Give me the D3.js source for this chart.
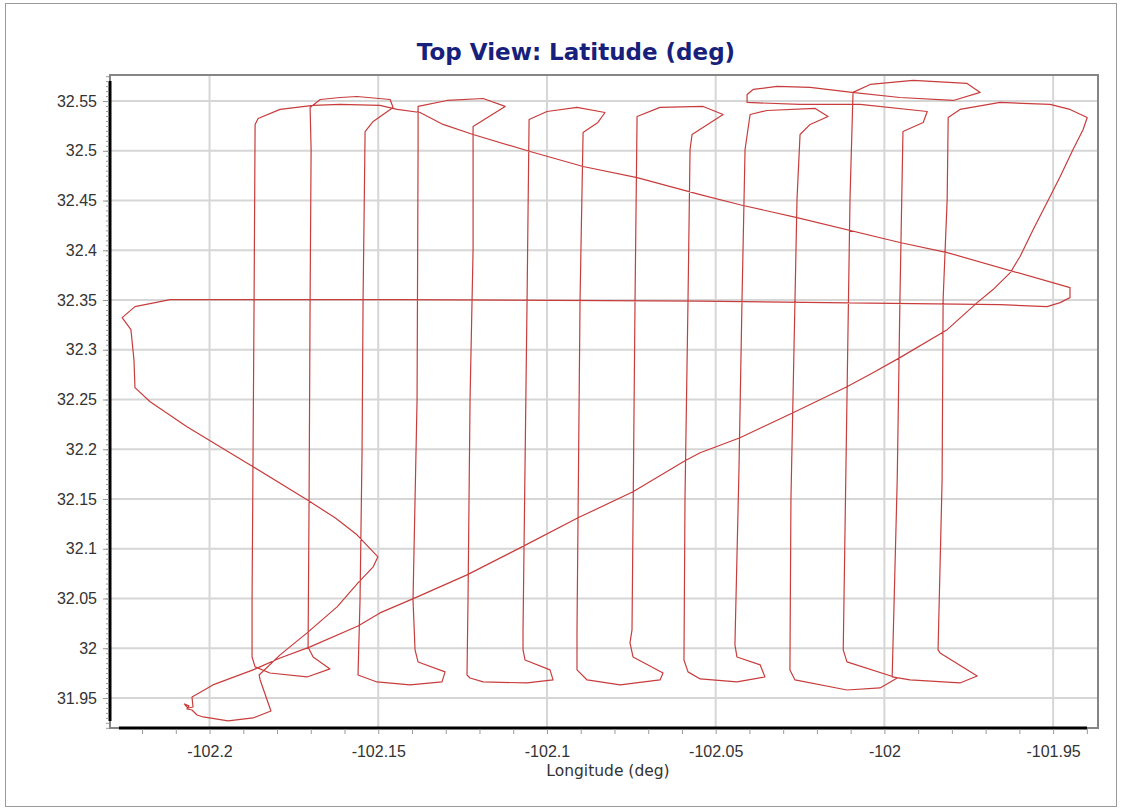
<!DOCTYPE html>
<meta charset="utf-8">
<style>
  body { margin: 0; background: #fff; }
  svg { display: block; font-family: "DejaVu Sans", Verdana, sans-serif; }
  .grid line { stroke: #d6d6d6; stroke-width: 2px; }
  .minor line { stroke: #9a9a9a; stroke-width: 1px; }
  .minor path, .labels path, .labels line { display: none; }
  .labels text { font-size: 16px; fill: #333; }
  .track { fill: none; stroke: #c83c3c; stroke-width: 1.2px; stroke-linejoin: round; }
  .title { font-size: 23px; font-weight: bold; fill: #17207a; text-anchor: middle; }
  .axis-title { font-size: 15.5px; fill: #333; text-anchor: middle; }
</style>
<body>
<div id="vis"></div>
<script src="https://cdn.jsdelivr.net/npm/d3@7/dist/d3.min.js"></script>
<script>

// flight track
const lon = [
  -102.2076, -102.2061, -102.2067, -102.2052, -102.2043, -102.2037, -102.2019, -102.1945, -102.1871, -102.1818,
  -102.1850, -102.1853, -102.1791, -102.1711, -102.1622, -102.1560, -102.1515, -102.1501, -102.1563, -102.1628,
  -102.1711, -102.1871, -102.2067, -102.2176, -102.2221, -102.2224, -102.2233, -102.2259, -102.2221, -102.2117,
  -102.1435, -102.0546, -101.9657, -101.9518, -101.9479, -101.9450, -101.9450, -101.9814, -101.9954, -102.0259,
  -102.0419, -102.0546, -102.0733, -102.0893, -102.1050, -102.1219, -102.1308, -102.1376, -102.1444, -102.1495,
  -102.1613, -102.1693, -102.1791, -102.1856, -102.1865, -102.1868, -102.1871, -102.1874, -102.1874, -102.1865,
  -102.1821, -102.1711, -102.1643, -102.1693, -102.1708, -102.1705, -102.1702, -102.1699, -102.1702, -102.1672,
  -102.1613, -102.1563, -102.1465, -102.1456, -102.1515, -102.1539, -102.1545, -102.1548, -102.1554, -102.1560,
  -102.1504, -102.1406, -102.1311, -102.1302, -102.1382, -102.1391, -102.1397, -102.1385, -102.1382, -102.1382,
  -102.1296, -102.1189, -102.1124, -102.1219, -102.1219, -102.1228, -102.1234, -102.1237, -102.1228, -102.1189,
  -102.1059, -102.0982, -102.0991, -102.1065, -102.1071, -102.1071, -102.1059, -102.1053, -102.1000, -102.0911,
  -102.0828, -102.0849, -102.0893, -102.0902, -102.0911, -102.0911, -102.0881, -102.0783, -102.0665, -102.0656,
  -102.0745, -102.0754, -102.0748, -102.0739, -102.0733, -102.0665, -102.0537, -102.0478, -102.0570, -102.0576,
  -102.0582, -102.0591, -102.0594, -102.0582, -102.0546, -102.0437, -102.0354, -102.0368, -102.0437, -102.0443,
  -102.0431, -102.0422, -102.0413, -102.0398, -102.0348, -102.0205, -102.0167, -102.0220, -102.0250, -102.0259,
  -102.0268, -102.0277, -102.0280, -102.0265, -102.0111, -102.0013, -101.9962, -102.0111, -102.0122, -102.0111,
  -102.0102, -102.0093, -102.0042, -101.9915, -101.9755, -101.9716, -101.9796, -101.9954, -102.0096, -102.0220,
  -102.0318, -102.0389, -102.0407, -102.0407, -102.0250, -102.0072, -101.9873, -101.9885, -101.9945, -101.9954,
  -101.9962, -101.9977, -101.9924, -101.9776, -101.9725, -101.9835, -101.9841, -101.9829, -101.9826, -101.9814,
  -101.9811, -101.9776, -101.9657, -101.9509, -101.9450, -101.9399, -101.9411, -101.9441, -101.9479, -101.9509,
  -101.9559, -101.9598, -101.9627, -101.9678, -101.9725, -101.9814, -101.9954, -102.0034, -102.0111, -102.0271,
  -102.0428, -102.0546, -102.0591, -102.0745, -102.0908, -102.1074, -102.1237, -102.1391, -102.1495, -102.1560,
  -102.1702, -102.1791, -102.1871, -102.1990, -102.2052, -102.2049, -102.2064, -102.2073
];
const lat = [
  31.9440, 31.9420, 31.9389, 31.9379, 31.9349, 31.9329, 31.9309, 31.9269, 31.9299, 31.9369,
  31.9681, 31.9731, 31.9933, 32.0154, 32.0416, 32.0657, 32.0818, 32.0919, 32.1140, 32.1311,
  32.1492, 32.1824, 32.2226, 32.2478, 32.2619, 32.2900, 32.3202, 32.3323, 32.3434, 32.3504,
  32.3504, 32.3489, 32.3454, 32.3434, 32.3474, 32.3524, 32.3625, 32.3977, 32.4078, 32.4329,
  32.4450, 32.4560, 32.4731, 32.4842, 32.4993, 32.5164, 32.5265, 32.5385, 32.5416, 32.5456,
  32.5466, 32.5456, 32.5416, 32.5325, 32.5265, 32.3504, 32.1995, 32.0486, 31.9912, 31.9812,
  31.9751, 31.9711, 31.9792, 31.9912, 32.0013, 32.1492, 32.3504, 32.5013, 32.5436, 32.5516,
  32.5536, 32.5546, 32.5516, 32.5436, 32.5295, 32.5194, 32.3504, 32.1995, 32.0486, 31.9731,
  31.9661, 31.9631, 31.9661, 31.9762, 31.9862, 31.9983, 32.0486, 32.2498, 32.5013, 32.5446,
  32.5506, 32.5526, 32.5446, 32.5245, 32.4007, 32.2498, 32.0486, 31.9731, 31.9701, 31.9661,
  31.9651, 31.9681, 31.9782, 31.9882, 31.9983, 32.0184, 32.3504, 32.5315, 32.5395, 32.5436,
  32.5385, 32.5285, 32.5184, 32.3504, 32.0184, 31.9782, 31.9681, 31.9631, 31.9681, 31.9751,
  31.9912, 32.0053, 32.0184, 32.3504, 32.5345, 32.5436, 32.5446, 32.5365, 32.5164, 32.5013,
  32.3504, 32.1492, 31.9882, 31.9762, 31.9691, 31.9661, 31.9711, 31.9832, 31.9912, 32.0033,
  32.1794, 32.3504, 32.5013, 32.5365, 32.5405, 32.5426, 32.5345, 32.5265, 32.5164, 32.4510,
  32.3001, 32.1492, 31.9782, 31.9681, 31.9580, 31.9601, 31.9701, 31.9862, 31.9983, 32.2498,
  32.4510, 32.5587, 32.5667, 32.5707, 32.5677, 32.5587, 32.5506, 32.5536, 32.5587, 32.5637,
  32.5647, 32.5617, 32.5566, 32.5486, 32.5466, 32.5466, 32.5395, 32.5285, 32.5194, 32.3504,
  32.1693, 31.9711, 31.9681, 31.9651, 31.9721, 31.9953, 31.9983, 32.1693, 32.3504, 32.4510,
  32.5335, 32.5416, 32.5486, 32.5466, 32.5416, 32.5335, 32.5214, 32.5013, 32.4741, 32.4540,
  32.4208, 32.3937, 32.3776, 32.3605, 32.3474, 32.3202, 32.2921, 32.2770, 32.2629, 32.2367,
  32.2116, 32.1965, 32.1884, 32.1572, 32.1311, 32.1019, 32.0737, 32.0506, 32.0355, 32.0224,
  32.0013, 31.9902, 31.9782, 31.9631, 31.9510, 31.9409, 31.9399, 31.9430
];

const xTicks = [-102.2, -102.15, -102.1, -102.05, -102, -101.95];
const xLabels = ['-102.2', '-102.15', '-102.1', '-102.05', '-102', '-101.95'];
const yTicks = [31.95, 32, 32.05, 32.1, 32.15, 32.2, 32.25, 32.3, 32.35, 32.4, 32.45, 32.5, 32.55];
const yLabels = ['31.95', '32', '32.05', '32.1', '32.15', '32.2', '32.25', '32.3', '32.35', '32.4', '32.45', '32.5', '32.55'];
const xDomain = [-102.2295, -101.9367];
const yDomain = [31.9198, 32.5762];

const width = 1122,
    height = 811;
let plot = {l: 110, r: 1098, t: 75, b: 728};

const x = d3.scaleLinear().domain(xDomain).range([plot.l, plot.r]);
const y = d3.scaleLinear().domain(yDomain).range([plot.b, plot.t]);

const svg = d3.select('#vis').append('svg')
    .attr('width', width)
    .attr('height', height);

// outer border of the picture
svg.append('rect')
    .attr('x', 5.5).attr('y', 3.5)
    .attr('width', 1111).attr('height', 803)
    .attr('fill', 'none')
    .attr('stroke', '#9a9a9a');

svg.append('text')
    .attr('class', 'title')
    .attr('x', 576)
    .attr('y', 60)
    .text('Top View: Latitude (deg)');

const grid = svg.append('g').attr('class', 'grid');
grid.selectAll('.vgrid')
  .data(xTicks)
  .join('line')
    .attr('x1', d => x(d)).attr('x2', d => x(d))
    .attr('y1', plot.t).attr('y2', plot.b);
grid.selectAll('.hgrid')
  .data(yTicks)
  .join('line')
    .attr('x1', plot.l).attr('x2', plot.r)
    .attr('y1', d => y(d)).attr('y2', d => y(d));

const line = d3.line()
    .x(i => x(lon[i]))
    .y(i => y(lat[i]));

svg.append('path')
    .attr('class', 'track')
    .attr('d', line(d3.range(lon.length)));

// frame: grey box, black axes on left and bottom
svg.append('rect')
    .attr('x', plot.l).attr('y', plot.t)
    .attr('width', plot.r - plot.l).attr('height', plot.b - plot.t)
    .attr('fill', 'none')
    .attr('stroke', '#858585')
    .attr('stroke-width', 2);
svg.append('line')
    .attr('x1', plot.l).attr('x2', plot.l)
    .attr('y1', plot.t + 6).attr('y2', plot.b - 7)
    .attr('stroke', '#000').attr('stroke-width', 3);
svg.append('line')
    .attr('x1', plot.l + 9).attr('x2', plot.r - 11)
    .attr('y1', plot.b).attr('y2', plot.b)
    .attr('stroke', '#000').attr('stroke-width', 3);

// minor ticks
svg.append('g')
    .attr('class', 'minor')
    .attr('transform', 'translate(0,' + (plot.b + 1) + ')')
    .call(d3.axisBottom(x).tickValues(d3.range(-102.22, -101.935, 0.01)).tickSize(5).tickFormat(''));
svg.append('g')
    .attr('class', 'minor')
    .attr('transform', 'translate(' + (plot.l - 1) + ',0)')
    .call(d3.axisLeft(y).tickValues(d3.range(31.92, 32.576, 0.005)).tickSize(3).tickFormat(''));
svg.append('g')
    .attr('class', 'minor')
    .attr('transform', 'translate(' + (plot.l - 1) + ',0)')
    .call(d3.axisLeft(y).tickValues(yTicks).tickSize(6).tickFormat(''));

// tick labels
svg.append('g')
    .attr('class', 'labels')
    .attr('transform', 'translate(0,' + plot.b + ')')
    .call(d3.axisBottom(x).tickValues(xTicks).tickSize(0).tickPadding(18).tickFormat((d, i) => xLabels[i]));
svg.append('g')
    .attr('class', 'labels')
    .attr('transform', 'translate(' + plot.l + ',0)')
    .call(d3.axisLeft(y).tickValues(yTicks).tickSize(0).tickPadding(13).tickFormat((d, i) => yLabels[i]));
svg.selectAll('.labels text').attr('font-family', null).attr('font-size', null);

svg.append('text')
    .attr('class', 'axis-title')
    .attr('x', 608)
    .attr('y', 776)
    .text('Longitude (deg)');

</script>
</body>
